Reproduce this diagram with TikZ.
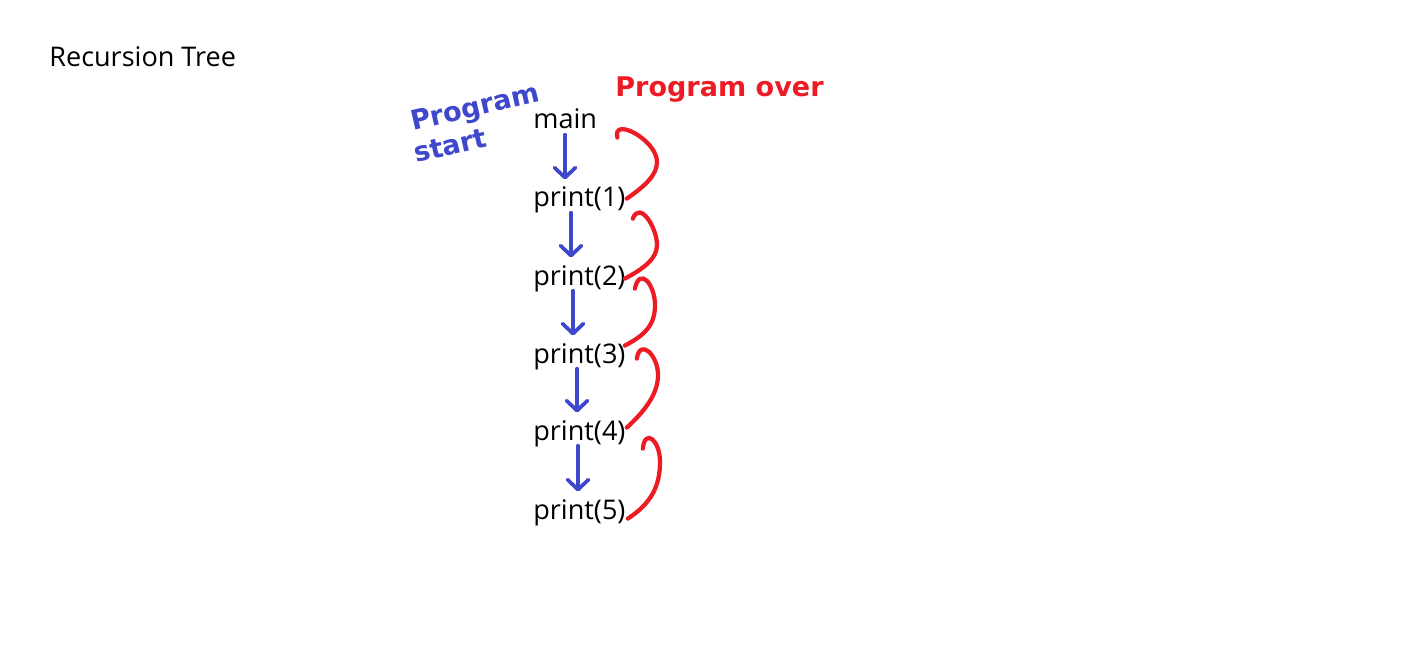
\documentclass[tikz,border=0pt]{standalone}
\usepackage{fontspec}
\setmainfont{Open Sans}
\newfontfamily\handfont{DejaVu Sans}
\usetikzlibrary{arrows.meta,calc}
\definecolor{penblue}{RGB}{63,72,204}
\definecolor{penred}{RGB}{237,28,36}
\tikzset{
    call/.style={anchor=base west, inner sep=0pt, text height=0.75em, text depth=0.25em, font=\fontsize{15.4}{18}\selectfont},
    callarrow/.style={penblue, line width=0.075cm, line cap=round, -{Straight Barb[round, length=0.2cm, width=0.42cm]}, shorten <=0.02cm, shorten >=0.28cm},
    returnline/.style={penred, line width=0.085cm, line cap=round},
    scribble/.style={anchor=base west, inner sep=0pt, font=\handfont\bfseries\fontsize{15.4}{19}\selectfont}
}
\begin{document}
\begin{tikzpicture}[x=0.02cm, y=-0.02cm]
    \useasboundingbox (0,0) rectangle (1416,672);

    % Title
    \node[call] (title) at (49,67) {Recursion Tree};

    % Call stack
    \node[call] (main) at (533,129) {main};
    \foreach \i/\y in {1/207, 2/285, 3/363, 4/440, 5/519}
        \node[call] (p\i) at (533,\y) {print(\i)};

    % Calls going down
    \foreach \a/\b/\dx in {main/p1/32, p1/p2/38, p2/p3/40, p3/p4/44, p4/p5/45}
        \draw[callarrow] ($(\a.south west)+(\dx,0)$) -- ($(\b.north west)+(\dx,0)$);

    % Returns going up
    \draw[returnline] ($(p1.east)+(1,-4)$) .. controls (645,186) and (657,175) .. (657,162)
        .. controls (657,140) and (612,116) .. ($(main.east)+(20,13)$);
    \draw[returnline] ($(p2.east)+(-1,-2)$) .. controls (645,268) and (657,258) .. (657,245)
        .. controls (657,228) and (640,200) .. ($(p1.east)+(7,16)$);
    \draw[returnline] ($(p3.east)+(-1,-13)$) .. controls (645,335) and (655,325) .. (655,305)
        .. controls (655,285) and (640,266) .. ($(p2.east)+(9,8)$);
    \draw[returnline] ($(p4.east)+(1,-8)$) .. controls (648,408) and (658,392) .. (658,375)
        .. controls (658,355) and (640,338) .. ($(p3.east)+(11,0)$);
    \draw[returnline] ($(p5.east)+(2,4)$) .. controls (652,503) and (660,485) .. (660,462)
        .. controls (660,440) and (645,428) .. ($(p4.east)+(17,13)$);

    % Handwritten notes
    \node[scribble, penblue, rotate=13] (start1) at (413,131) {Program};
    \node[scribble, penblue, rotate=13] (start2) at (416,163) {start};
    \node[scribble, penred] (over) at (615,97) {Program over};
\end{tikzpicture}
\end{document}
